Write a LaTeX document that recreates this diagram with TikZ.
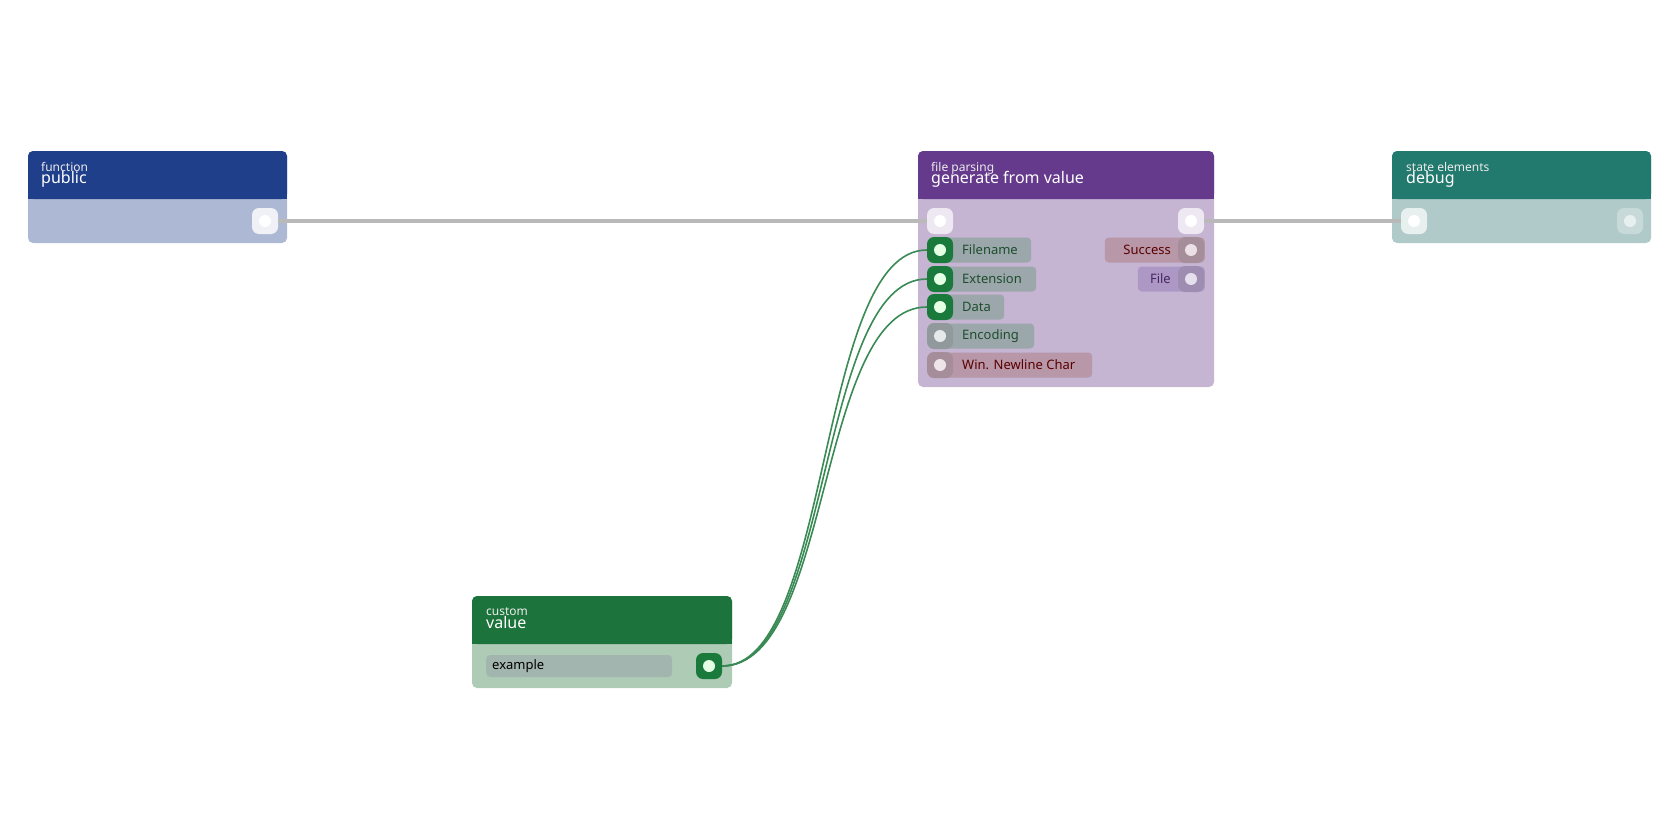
\documentclass[tikz,border=0pt]{standalone}
\usepackage{fontspec}
\setmainfont{Noto Sans}
\usetikzlibrary{positioning}
\definecolor{pubhead}{HTML}{1F3F8A}\definecolor{pubbody}{HTML}{ADB9D4}
\definecolor{filehead}{HTML}{65398C}\definecolor{filebody}{HTML}{C5B4D2}
\definecolor{dbghead}{HTML}{22796E}\definecolor{dbgbody}{HTML}{AFCAC9}
\definecolor{valhead}{HTML}{1C733B}\definecolor{valbody}{HTML}{ADCBB5}
\definecolor{pillgrey}{HTML}{9CA7AB}\definecolor{pillred}{HTML}{B897A8}
\definecolor{pillpurple}{HTML}{AD97C5}\definecolor{portgreen}{HTML}{1A7A3B}
\definecolor{wiregreen}{HTML}{3A8A55}\definecolor{labgreen}{HTML}{1E4D2E}
\begin{document}
\begin{tikzpicture}[x=1pt,y=-1pt]

\tikzset{
    head/.style = {rounded corners=5pt},
    pill/.style = {rounded corners=4pt, minimum height=25pt, inner sep=0pt},
    port/.style = {rounded corners=7pt, minimum size=26pt, inner sep=0pt},
    dot/.style = {circle, minimum size=12pt, inner sep=0pt},
    label/.style = {font=\fontsize{13}{13}\selectfont, inner sep=0pt},
    wire/.style = {wiregreen, line width=1.6pt}
}

\useasboundingbox (0,0) rectangle (1680,840);

% boxes
\foreach \xa/\xb/\ya/\ym/\yb/\hc/\bc in {28/287/151/199/243/pubhead/pubbody,
  918/1214/151/199/387/filehead/filebody, 1392/1651/151/199/243/dbghead/dbgbody,
  472/732/596/644/688/valhead/valbody}{
  \fill[\bc, head] (\xa,\ya) rectangle (\xb,\yb);
  \fill[\hc, head] (\xa,\ya) rectangle (\xb,\ym);
  \fill[\hc] (\xa,\ym-8) rectangle (\xb,\ym);
}

% titles
\foreach \x/\y/\sub/\main in {41/151/function/public, 931/151/file parsing/generate from value,
  1406/151/state elements/debug, 486/596/custom/value}{
  \node[anchor=north west, inner sep=0pt, text=white!85!gray, font=\fontsize{12}{12}\selectfont] at (\x,\y+11) {\sub};
  \node[anchor=north west, inner sep=0pt, text=white, font=\fontsize{16}{16}\selectfont] at (\x,\y+20) {\main};
}

% ports
\node (pub-out) [port, fill=white!80!pubbody] at (265,221) {};
\node[dot, fill=white] at (pub-out) {};
\node (gen-in) [port, fill=white!70!filebody] at (940,221) {};
\node[dot, fill=white] at (gen-in) {};
\node (gen-out) [port, fill=white!70!filebody] at (1191,221) {};
\node[dot, fill=white] at (gen-out) {};
\node (dbg-in) [port, fill=white!70!dbgbody] at (1414,221) {};
\node[dot, fill=white] at (dbg-in) {};
\node (dbg-out) [port, fill=white!30!dbgbody] at (1630,221) {};
\node[dot, fill=white!70!dbgbody] at (dbg-out) {};

% input pills
\foreach \n/\txt/\w/\y/\pc/\tc/\on in {fname/Filename/103/250/pillgrey/labgreen/1,
  ext/Extension/108/279/pillgrey/labgreen/1, data/Data/76/307/pillgrey/labgreen/1,
  enc/Encoding/106/336/pillgrey/labgreen/0, nl/Win. Newline Char/164/365/pillred/red!35!black/0}{
  \node (p-\n) [pill, fill=\pc, minimum width=\w pt, anchor=west] at (928,\y) {};
  \node[label, text=\tc, anchor=west] at (962,\y) {\txt};
  \ifnum\on=1
    \node (\n) [port, fill=portgreen] at (940,\y) {};
    \node[dot, fill=white!90!green] at (\n) {};
  \else
    \node (\n) [port, fill=\pc!85!black!90] at (940,\y) {};
    \node[dot, fill=white!75!\pc] at (\n) {};
  \fi
}

% output pills
\node (p-succ) [pill, fill=pillred, minimum width=100pt, anchor=east] at (1205,250) {};
\node[label, text=red!35!black, anchor=east] at (1171,250) {Success};
\node (succ) [port, fill=pillred!85!black!90] at (1191,250) {};
\node[dot, fill=white!70!pillred] at (succ) {};
\node (p-file) [pill, fill=pillpurple, minimum width=67pt, anchor=east] at (1205,279) {};
\node[label, text=filehead!70!black, anchor=east] at (1171,279) {File};
\node (file) [port, fill=pillpurple!85!black!90] at (1191,279) {};
\node[dot, fill=white!70!pillpurple] at (file) {};

% value node
\node (p-ex) [pill, fill=pillgrey!60!valbody, minimum width=186pt, minimum height=22pt, anchor=west] at (486,666) {};
\node[label, anchor=west] at (492,666) {example};
\node (val-out) [port, fill=portgreen] at (709,666) {};
\node[dot, fill=white!90!green] at (val-out) {};

% connections
\draw[gray!55, line width=3.5pt] (pub-out.east) -- (gen-in.west);
\draw[gray!55, line width=3.5pt] (gen-out.east) -- (dbg-in.west);
\foreach \n in {fname,ext,data}
  \draw[wire] (val-out.east) .. controls +(110,0) and +(-110,0) .. (\n.west);

\end{tikzpicture}
\end{document}
